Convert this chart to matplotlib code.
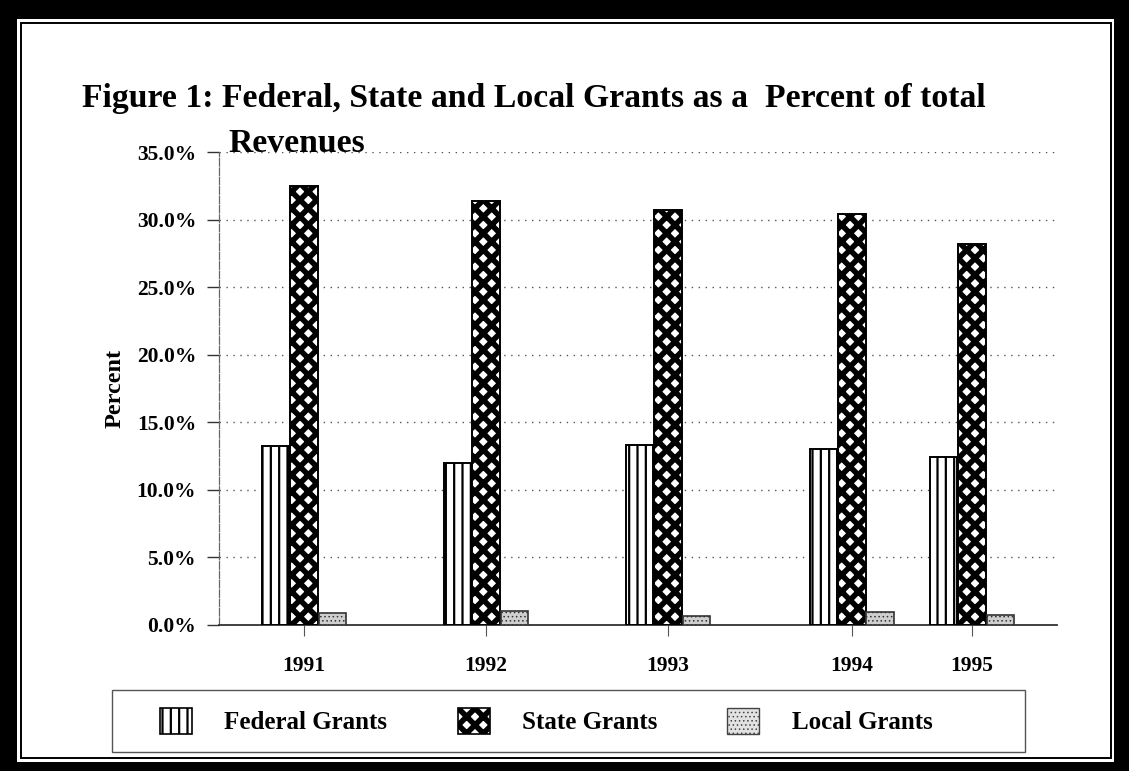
import matplotlib
matplotlib.use("Agg")
import matplotlib.pyplot as plt
from matplotlib.patches import Rectangle, Patch
from matplotlib.ticker import PercentFormatter, FixedLocator

# ---- data ----
years = ["1991", "1992", "1993", "1994", "1995"]
federal = [13.25, 12.0, 13.3, 13.0, 12.4]
state = [32.5, 31.4, 30.7, 30.4, 28.2]
local = [0.9, 1.05, 0.7, 0.95, 0.75]
series_names = ["Federal Grants", "State Grants", "Local Grants"]
y_ticks = [0, 5, 10, 15, 20, 25, 30, 35]

# ---- layout (not data) ----
group_pos = [0, 1, 2, 3.01, 3.67]
bar_w = 0.15
W, H = 1129, 771

plt.rcParams['font.family'] = ['Liberation Serif', 'DejaVu Serif']
plt.rcParams['font.weight'] = 'bold'

fig = plt.figure(figsize=(W / 100, H / 100), dpi=100)
fig.patch.set_facecolor('black')

def fx(px):
    return px / W

def fy(py):
    return 1 - py / H

# white page inside thick black frame
fig.add_artist(Rectangle((fx(17), fy(762)), fx(1114) - fx(17), fy(19) - fy(762),
                         transform=fig.transFigure, facecolor='white',
                         edgecolor='none', zorder=-2))
# thin inner line
fig.add_artist(Rectangle((fx(20.5), fy(757.5)), fx(1110.5) - fx(20.5), fy(22.5) - fy(757.5),
                         transform=fig.transFigure, facecolor='none',
                         edgecolor='black', linewidth=1.4, zorder=-1))

ax = fig.add_axes([fx(219), fy(625), fx(1057) - fx(219), fy(152) - fy(625)])
ax.set_facecolor('none')

STATE_HLW = 4.0
FED_HLW = 1.6
LOC_HLW = 0.6

def hatched_bar(xs, vals, hatch, face, edge, hlw, lw):
    with plt.rc_context({'hatch.linewidth': hlw}):
        bars = ax.bar(xs, vals, width=bar_w, facecolor=face, edgecolor=edge,
                      hatch=hatch, linewidth=lw, zorder=3)
    for b in bars:
        if hasattr(b, 'set_hatch_linewidth'):
            b.set_hatch_linewidth(hlw)
    return bars

x_fed = [p - 0.157 for p in group_pos]
x_sta = list(group_pos)
x_loc = [p + 0.155 for p in group_pos]

hatched_bar(x_fed, federal, '||', 'white', 'black', FED_HLW, 1.4)
hatched_bar(x_sta, state, 'xx', 'white', 'black', STATE_HLW, 1.4)
hatched_bar(x_loc, local, '....', '#cfcfcf', '#333333', LOC_HLW, 1.2)

ax.set_xlim(-0.467, 4.137)
ax.set_ylim(0, 35)
ax.yaxis.set_major_locator(FixedLocator(y_ticks))
ax.yaxis.set_major_formatter(PercentFormatter(decimals=1))
ax.set_xticks(group_pos)
ax.set_xticklabels(years)

ax.grid(axis='y', linestyle=(0, (1, 4)), color='#555555', linewidth=1.0, zorder=0)
for s in ['top', 'right']:
    ax.spines[s].set_visible(False)
ax.spines['left'].set_color('#666666')
ax.spines['left'].set_linewidth(0.9)
ax.spines['left'].set_linestyle((0, (6, 1.5)))
ax.spines['bottom'].set_color('#333333')
ax.spines['bottom'].set_linewidth(1.3)

ax.tick_params(axis='y', direction='out', length=8.5, width=1.0, color='#333333',
               pad=8, labelsize=15.5)
ax.tick_params(axis='x', direction='out', length=8, width=0.8, color='#555555',
               pad=14, labelsize=15.5)
for lab in ax.get_xticklabels() + ax.get_yticklabels():
    lab.set_fontweight('bold')

ax.set_ylabel('Percent', fontsize=17.5, fontweight='bold', labelpad=8)

fig.text(fx(82), fy(99), 'Figure 1: Federal, State and Local Grants as a  Percent of total',
         fontsize=24.3, fontweight='bold', ha='left', va='center')
fig.text(fx(228), fy(143), 'Revenues', fontsize=24.3, fontweight='bold',
         ha='left', va='center')

# legend
hls = [FED_HLW, STATE_HLW, LOC_HLW]
specs = [('white', 'black', '||', 1.2), ('white', 'black', 'xx', 1.2),
         ('#e2e2e2', '#444444', '....', 1.0)]
handles = []
for (fc, ec, ht, lw), hlw in zip(specs, hls):
    with plt.rc_context({'hatch.linewidth': hlw}):
        h = Patch(facecolor=fc, edgecolor=ec, hatch=ht, linewidth=lw)
    handles.append(h)

fig.add_artist(Rectangle((fx(112), fy(752)), fx(1025) - fx(112), fy(690) - fy(752),
                         transform=fig.transFigure, facecolor='none',
                         edgecolor='#555555', linewidth=1.0, zorder=-1))
leg = fig.legend(handles, series_names, loc='center left',
                 bbox_to_anchor=(fx(160), fy(721)), ncol=3, frameon=False,
                 prop={'size': 18, 'weight': 'bold'},
                 handlelength=1.28, handleheight=1.28, handletextpad=1.3,
                 columnspacing=2.8, borderaxespad=0, borderpad=0)
lh = getattr(leg, 'legend_handles', None) or getattr(leg, 'legendHandles', [])
for h, hlw in zip(lh, hls):
    if hasattr(h, 'set_hatch_linewidth'):
        h.set_hatch_linewidth(hlw)

fig.savefig('out.png', dpi=100, facecolor=fig.get_facecolor())
